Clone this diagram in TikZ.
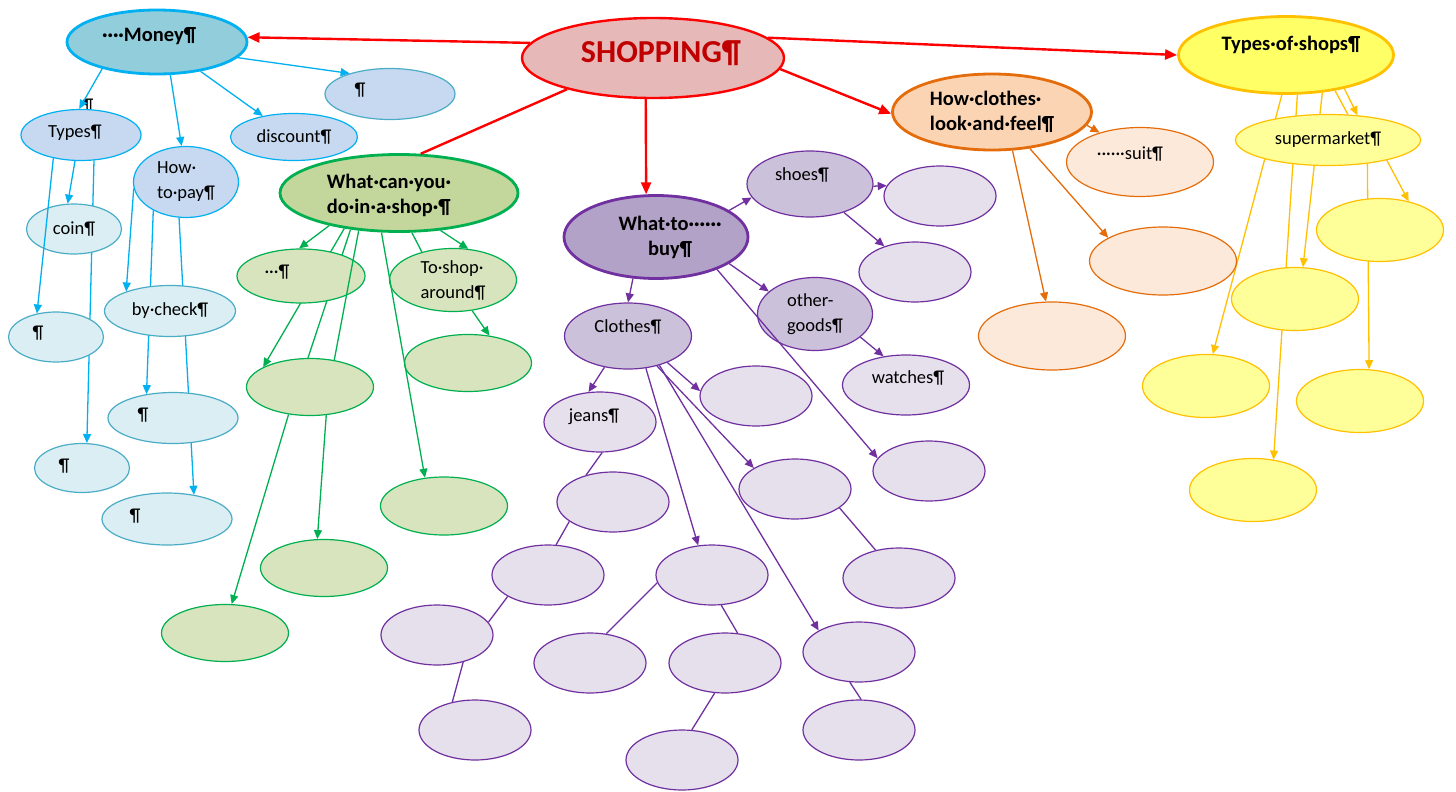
\documentclass[tikz,border=0pt]{standalone}
\usepackage{fontspec}
\setmainfont{Carlito}
\usepackage{tikz}
\usetikzlibrary{shapes.geometric,arrows.meta,backgrounds}

\definecolor{cRed}{HTML}{FF0000}
\definecolor{cShopFill}{HTML}{E6B9B8}
\definecolor{cShopText}{HTML}{C00000}
\definecolor{cBlue}{HTML}{00B0F0}
\definecolor{cBlueLine}{HTML}{4BACC6}
\definecolor{cMoneyFill}{HTML}{92CDDC}
\definecolor{cBlueFill}{HTML}{C6D9F1}
\definecolor{cPaleFill}{HTML}{DAEEF3}
\definecolor{cGreen}{HTML}{00B050}
\definecolor{cGreenHead}{HTML}{C3D69B}
\definecolor{cGreenFill}{HTML}{D7E4BD}
\definecolor{cPurple}{HTML}{7030A0}
\definecolor{cPurpleHead}{HTML}{B3A2C7}
\definecolor{cPurpleMid}{HTML}{CCC1DA}
\definecolor{cPurpleFill}{HTML}{E5E0EC}
\definecolor{cOrange}{HTML}{E46C0A}
\definecolor{cOrangeHead}{HTML}{FBD4B4}
\definecolor{cOrangeFill}{HTML}{FDE9D9}
\definecolor{cYellow}{HTML}{FFC000}
\definecolor{cYellowHead}{HTML}{FFFF66}
\definecolor{cYellowFill}{HTML}{FFFF99}

\tikzset{
    %Define standard arrow tip
    >={Triangle[length=9pt,width=8pt]},
    % Define arrow style
    pil/.style={
           ->,
           line width=1.3pt,},
    redpil/.style={pil, color=cRed, line width=2.4pt, >={Triangle[length=12pt,width=10pt]}},
    bluepil/.style={pil, color=cBlue},
    greenpil/.style={pil, color=cGreen},
    purplepil/.style={pil, color=cPurple},
    orangepil/.style={pil, color=cOrange},
    yellowpil/.style={pil, color=cYellow},
}
\newcommand{\bubblewidth}{112pt}
\newcommand{\bubbleheight}{60pt}
\newcommand{\bubblefont}{\fontsize{18.5}{25}\selectfont}
\newcommand{\bubbleheadfont}{\fontsize{20.5}{25}\selectfont\bfseries}
\newcommand{\shoppingfont}{\fontsize{32}{36}\selectfont\bfseries}

\begin{document}
\begin{tikzpicture}[x=1pt, y=-1pt, inner sep=0pt]
\tikzstyle{bubble}=[draw, ellipse, minimum width=\bubblewidth, minimum height=\bubbleheight, line width=1.2pt, align=center, font=\bubblefont]
\tikzstyle{headbubble}=[bubble, line width=2.8pt, font=\bubbleheadfont]
\tikzstyle{bubbletext}=[font=\bubblefont]
\tikzstyle{headtext}=[font=\bubbleheadfont, align=center]
\tikzstyle{shoptext}=[font=\shoppingfont, text=cShopText]
\tikzstyle{shophead}=[headbubble, draw=cRed, fill=cShopFill, line width=2.4pt]
\tikzstyle{bluehead}=[headbubble, draw=cBlue, fill=cMoneyFill]
\tikzstyle{bluebub}=[bubble, draw=cBlue, fill=cBlueFill]
\tikzstyle{palebub}=[bubble, draw=cBlueLine, fill=cPaleFill]
\tikzstyle{greenhead}=[headbubble, draw=cGreen, fill=cGreenHead]
\tikzstyle{greenbub}=[bubble, draw=cGreen, fill=cGreenFill, minimum width=127pt, minimum height=57pt]
\tikzstyle{purplehead}=[headbubble, draw=cPurple, fill=cPurpleHead]
\tikzstyle{purplemid}=[bubble, draw=cPurple, fill=cPurpleMid]
\tikzstyle{purplebub}=[bubble, draw=cPurple, fill=cPurpleFill]
\tikzstyle{orangehead}=[headbubble, draw=cOrange, fill=cOrangeHead]
\tikzstyle{orangebub}=[bubble, draw=cOrange, fill=cOrangeFill, minimum width=147pt, minimum height=68pt]
\tikzstyle{yellowhead}=[headbubble, draw=cYellow, fill=cYellowHead]
\tikzstyle{yellowbub}=[bubble, draw=cYellow, fill=cYellowFill, minimum width=127pt, minimum height=63pt]

\useasboundingbox (0,0) rectangle (1456,792);

% centre
\node[shophead, minimum width=262pt, minimum height=80pt,
      label={[shoptext,xshift=8pt,yshift=5pt]center:SHOPPING¶}] (shop) at (653,58) {};

% money
\node[bluehead, minimum width=180pt, minimum height=64pt,
      label={[headtext,xshift=-8pt,yshift=6pt]center:····Money¶}] (money) at (157,42) {};
\node[bluebub, draw=cBlueLine, minimum width=130pt, minimum height=51pt,
      label={[bubbletext,xshift=-30pt,yshift=4pt]center:¶}] (moneynote) at (390,94) {};
\node[bubbletext] (typesmark) at (88,106) {¶};
\node[bluebub, minimum width=120pt, minimum height=51pt,
      label={[bubbletext,xshift=-6pt,yshift=2pt]center:Types¶}] (types) at (81,135) {};
\node[bluebub, minimum width=127pt, minimum height=47pt] (discount) at (294,137) {discount¶};
\node[bluebub, minimum width=105pt, minimum height=71pt, align=left] (howpay) at (186,182) {How·\\to·pay¶};
\node[palebub, minimum width=95pt, minimum height=50pt] (coin) at (74,229) {coin¶};
\node[palebub, minimum width=131pt, minimum height=51pt] (bycheck) at (170,311) {by·check¶};
\node[palebub, minimum width=95pt, minimum height=50pt,
      label={[bubbletext,xshift=-18pt,yshift=4pt]center:¶}] (pay1) at (56,337) {};
\node[palebub, minimum width=130pt, minimum height=51pt,
      label={[bubbletext,xshift=-30pt,yshift=3pt]center:¶}] (pay2) at (173,418) {};
\node[palebub, minimum width=95pt, minimum height=49pt,
      label={[bubbletext,xshift=-18pt,yshift=2pt]center:¶}] (pay3) at (82,468) {};
\node[palebub, minimum width=130pt, minimum height=52pt,
      label={[bubbletext,xshift=-32pt,yshift=3pt]center:¶}] (pay4) at (167,519) {};

% what can you do
\node[greenhead, minimum width=238pt, minimum height=77pt,
      label={[headtext,align=left,xshift=-10pt,yshift=-2pt]center:What·can·you·\\do·in·a·shop·¶}] (shopdo) at (399,193) {};
\node[greenbub, minimum width=128pt, minimum height=54pt,
      label={[bubbletext,xshift=-24pt,yshift=4pt]center:···¶}] (green1) at (301,276) {};
\node[greenbub, minimum height=63pt, align=left] (toshop) at (453,280) {To·shop·\\around¶};
\node[greenbub] (green2) at (310,387) {};
\node[greenbub] (green3) at (468,363) {};
\node[greenbub, minimum height=58pt] (green4) at (444,506) {};
\node[greenbub] (green5) at (324,568) {};
\node[greenbub] (green6) at (225,633) {};

% what to buy
\node[purplehead, minimum width=184pt, minimum height=83pt,
      label={[headtext,xshift=14pt]center:What·to······\\buy¶}] (buy) at (656,237) {};
\node[purplemid, minimum width=126pt, minimum height=66pt,
      label={[bubbletext,xshift=-8pt,yshift=9pt]center:shoes¶}] (shoes) at (810,184) {};
\node[purplemid, minimum width=115pt, minimum height=73pt, align=left] (other) at (815,314) {other-\\goods¶};
\node[purplemid, minimum width=127pt, minimum height=66pt,
      label={[bubbletext,yshift=9pt]center:Clothes¶}] (clothes) at (628,336) {};
\node[purplebub, minimum width=127pt,
      label={[bubbletext,xshift=2pt,yshift=7pt]center:watches¶}] (watches) at (906,385) {};
\node[purplebub,
      label={[bubbletext,xshift=-6pt,yshift=5pt]center:jeans¶}] (jeans) at (600,422) {};
\node[purplebub] (purple1) at (940,196) {};
\node[purplebub] (purple2) at (915,272) {};
\node[purplebub] (purple3) at (756,396) {};
\node[purplebub] (purple4) at (929,471) {};
\node[purplebub] (purple5) at (795,489) {};
\node[purplebub] (purple6) at (613,502) {};
\node[purplebub] (purple7) at (899,578) {};
\node[purplebub] (purple8) at (548,575) {};
\node[purplebub] (purple9) at (712,575) {};
\node[purplebub] (purple10) at (437,635) {};
\node[purplebub] (purple11) at (590,663) {};
\node[purplebub] (purple12) at (725,663) {};
\node[purplebub] (purple13) at (859,652) {};
\node[purplebub] (purple14) at (475,730) {};
\node[purplebub] (purple15) at (682,760) {};
\node[purplebub] (purple16) at (859,730) {};

% how clothes look
\node[orangehead, minimum width=199pt, minimum height=76pt, align=left] (looks) at (992,112) {How·clothes·\\look·and·feel¶};
\node[orangebub, minimum height=69pt,
      label={[bubbletext,xshift=-10pt,yshift=8pt]center:······suit¶}] (suit) at (1140,162) {};
\node[orangebub] (orange1) at (1163,261) {};
\node[orangebub] (orange2) at (1052,336) {};

% types of shops
\node[yellowhead, minimum width=215pt, minimum height=77pt,
      label={[headtext,xshift=5pt,yshift=10pt]center:Types·of·shops¶}] (shops) at (1286,55) {};
\node[yellowbub, minimum width=185pt, minimum height=51pt] (market) at (1328,140) {supermarket¶};
\node[yellowbub] (yellow1) at (1380,230) {};
\node[yellowbub] (yellow2) at (1295,299) {};
\node[yellowbub] (yellow3) at (1206,386) {};
\node[yellowbub] (yellow4) at (1360,401) {};
\node[yellowbub] (yellow5) at (1253,490) {};

\path[redpil] (shop.173)  edge (money.3);
\path[redpil] (shop.10)  edge (shops.180);
\path[redpil] (shop.355)  edge (looks.181);
\path[redpil] (shop.260)  edge (buy.103);
\path[redpil,-] (shop.200)  edge (shopdo.61);

\path[bluepil] (money.349)  edge (moneynote.153);
\path[bluepil] (money.206)  edge (types.94);
\path[bluepil] (money.292)  edge (howpay.97);
\path[bluepil] (money.326)  edge (discount.146);
\path[bluepil] (types.257)  edge (coin.104);
\path[bluepil] (types.220)  edge (pay1.129);
\path[bluepil] (howpay.187)  edge (bycheck.156);

\path[greenpil] (shopdo.205)  edge (green1.94);
\path[greenpil,-] (shopdo.223)  edge (green2.48);
\path[greenpil] (shopdo.246)  edge (green4.124);
\path[greenpil] (shopdo.318)  edge (toshop.64);
\path[greenpil,-] (shopdo.288)  edge (toshop.138);
\path[greenpil] (toshop.302)  edge (green3.52);
\path[greenpil] (green2.232)  edge (green6.77);
\path[greenpil] (green2.300)  edge (green5.103);

\path[purplepil] (buy.20)  edge (shoes.193);
\path[purplepil] (buy.340)  edge (other.154);
\path[purplepil] (buy.332)  edge (purple4.166);
\path[purplepil] (buy.241)  edge (clothes.90);
\path[purplepil] (shoes.358)  edge (purple1.169);
\path[purplepil] (shoes.320)  edge (purple2.140);
\path[purplepil] (other.333)  edge (watches.128);
\path[purplepil] (clothes.233)  edge (jeans.111);
\path[purplepil] (clothes.326)  edge (purple3.175);
\path[purplepil] (clothes.314)  edge (purple5.153);
\path[purplepil] (clothes.317)  edge (purple13.152);
\path[purplepil] (clothes.299)  edge (purple9.115);
\path[purplepil,-] (jeans.274)  edge (purple6.135);
\path[purplepil,-] (purple6.204)  edge (purple8.75);
\path[purplepil,-] (purple8.208)  edge (purple10.14);
\path[purplepil,-] (purple10.314)  edge (purple14.129);
\path[purplepil,-] (purple9.188)  edge (purple11.61);
\path[purplepil,-] (purple9.287)  edge (purple12.67);
\path[purplepil,-] (purple12.251)  edge (purple15.72);
\path[purplepil,-] (purple5.337)  edge (purple7.130);
\path[purplepil,-] (purple13.253)  edge (purple16.86);

\path[orangepil] (looks.352)  edge (suit.144);
\path[orangepil] (looks.316)  edge (orange1.157);
\path[orangepil] (looks.298)  edge (orange2.100);

\path[yellowpil] (shops.330)  edge (market.40);
\path[yellowpil,-] (shops.324)  edge (market.52);
\path[yellowpil] (market.341)  edge (yellow1.45);

% lines that run behind the bubbles
\begin{scope}[on background layer]
\path[bluepil] (types.297)  edge (pay3.79);
\path[bluepil] (howpay.221)  edge (pay2.138);
\path[bluepil] (howpay.259)  edge (pay4.42);
\path[greenpil] (shopdo.213)  edge (green2.157);
\path[greenpil,-] (shopdo.217)  edge (green2.94);
\path[yellowpil] (shops.264)  edge (yellow3.78);
\path[yellowpil] (shops.286)  edge (yellow5.56);
\path[yellowpil] (shops.314)  edge (yellow2.76);
\path[yellowpil] (market.329)  edge (yellow4.74);
\end{scope}

\end{tikzpicture}
\end{document}
